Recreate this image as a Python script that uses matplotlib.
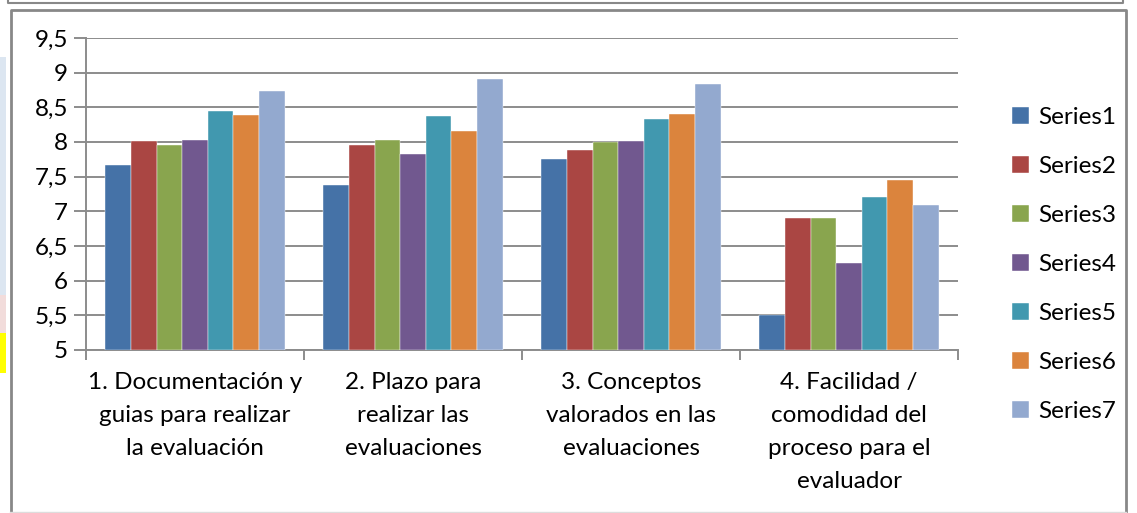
import numpy as np
import matplotlib
matplotlib.use('Agg')
from matplotlib import pyplot as plt
from matplotlib.patches import Rectangle
from matplotlib.lines import Line2D

plt.rcParams.update({'font.family': ['Lato', 'DejaVu Sans'],
                     'font.size': 17.5,
                     'text.color': '#000000',
                     'xtick.color': '#000000',
                     'ytick.color': '#000000'})

# categories and series values
categories = ['1. Documentación y\nguias para realizar\nla evaluación',
              '2. Plazo para\nrealizar las\nevaluaciones',
              '3. Conceptos\nvalorados en las\nevaluaciones',
              '4. Facilidad /\ncomodidad del\nproceso para el\nevaluador']
series_names = ['Series1', 'Series2', 'Series3', 'Series4', 'Series5', 'Series6', 'Series7']
series1 = [7.67, 7.38, 7.76, 5.50]
series2 = [8.02, 7.96, 7.89, 6.90]
series3 = [7.95, 8.03, 8.00, 6.90]
series4 = [8.03, 7.82, 8.02, 6.26]
series5 = [8.44, 8.38, 8.33, 7.20]
series6 = [8.39, 8.16, 8.40, 7.45]
series7 = [8.74, 8.91, 8.83, 7.09]
yticks = [5, 5.5, 6, 6.5, 7, 7.5, 8, 8.5, 9, 9.5]
ytick_labels = ['5', '5,5', '6', '6,5', '7', '7,5', '8', '8,5', '9', '9,5']

colors = ['#4572A7', '#AA4643', '#89A54E', '#71588F', '#4198AF', '#DB843D', '#93A9CF']
all_series = [series1, series2, series3, series4, series5, series6, series7]

fig = plt.figure(figsize=(11.37, 5.13), dpi=100)
ax = fig.add_axes([86/1137, 1-350/513, (958-86)/1137, (350-38)/513])

x = np.arange(len(categories))
width = 1/8.5
for i, (vals, name) in enumerate(zip(all_series, series_names)):
    ax.bar(x + (i - 3)*width, np.array(vals) - 5, width, bottom=5,
           color=colors[i], label=name, zorder=3,
           edgecolor='#ffffff', linewidth=0.3)

ax.set_xlim(-0.5, 3.5)
ax.set_ylim(5, 9.5)
ax.set_yticks(yticks)
ax.set_yticklabels(ytick_labels)
ax.yaxis.grid(True, color='#8c8c8c', linewidth=1.4, zorder=0)
ax.tick_params(axis='y', length=9, width=1.4, color='#8c8c8c', labelcolor='#000000', pad=4)

# category boundaries as major ticks, names as minor ticks
ax.set_xticks(np.arange(-0.5, 4, 1))
ax.set_xticklabels([])
ax.tick_params(axis='x', which='major', length=7, width=1.4, color='#8c8c8c')
ax.set_xticks(x, minor=True)
ax.set_xticklabels(categories, minor=True, linespacing=1.7)
ax.tick_params(axis='x', which='minor', length=0, pad=16, labelcolor='#000000')

for s in ['top', 'right']:
    ax.spines[s].set_visible(False)
for s in ['left', 'bottom']:
    ax.spines[s].set_color('#8c8c8c')
    ax.spines[s].set_linewidth(1.4)

leg = fig.legend(loc='upper left', bbox_to_anchor=(990/1137, 1-85/513),
                 frameon=False, handlelength=0.7, handleheight=0.7,
                 labelspacing=1.15, handletextpad=0.4)

# frames around the chart
gray = '#888888'
fig.add_artist(Line2D([8/1137, 8/1137, 1123/1137, 1123/1137], [1, 1-3/513, 1-3/513, 1],
                      color=gray, lw=1.5, transform=fig.transFigure))
fig.add_artist(Line2D([10.5/1137, 10.5/1137, 1126/1137, 1126/1137],
                      [0, 1-10/513, 1-10/513, 0],
                      color=gray, lw=2, transform=fig.transFigure))
fig.add_artist(Line2D([10/1137, 1126/1137], [1.5/513, 1.5/513],
                      color='#dddddd', lw=1, transform=fig.transFigure))

# coloured strips at the left edge
strips = [(57, 295, '#DCE6F1'), (295, 333, '#F2DCDB'), (333, 373, '#FFFF00')]
for top, bot, c in strips:
    fig.add_artist(Rectangle((0, 1-bot/513), 6/1137, (bot-top)/513,
                             color=c, transform=fig.transFigure, lw=0))

fig.savefig('out.png', dpi=100)
